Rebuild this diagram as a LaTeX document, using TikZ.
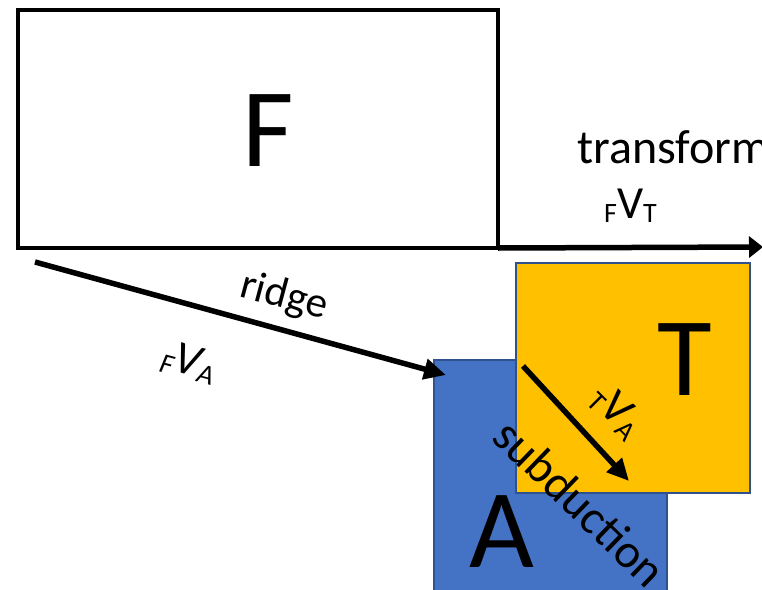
\documentclass[tikz,border=0pt]{standalone}
\usepackage{fontspec}
\setmainfont{Carlito}
\usetikzlibrary{arrows.meta}
\newcommand\lowsub[1]{\raisebox{-4pt}{\fontsize{28}{28}\selectfont #1}}
\begin{document}
\begin{tikzpicture}[x=1pt,y=-1pt,
  plate/.style={draw, inner sep=0pt, outer sep=0pt},
  bigletter/.style={font=\fontsize{112}{112}\selectfont, inner sep=0pt},
  label/.style={font=\fontsize{48}{48}\selectfont, inner sep=0pt},
  vel/.style={line width=5.5pt, -{Triangle[length=22pt,width=20pt]}},
  ]
\clip (0,0) rectangle (762,589);
\useasboundingbox (0,0) rectangle (762,589);
% plates
\node[plate, line width=4pt, minimum width=480, minimum height=238] (F) at (258,129) {};
\node[plate, draw={rgb,255:red,47;green,82;blue,143}, fill={rgb,255:red,68;green,114;blue,196}, line width=1.5pt, minimum width=233, minimum height=250] (A) at (550.5,485) {};
\node[plate, draw={rgb,255:red,47;green,82;blue,143}, fill={rgb,255:red,255;green,192;blue,0}, line width=1.5pt, minimum width=234, minimum height=230] (T) at (633,378) {};
% plate letters
\node[bigletter] (Fl) at (268,131) {F};
\node[bigletter] (Tl) at (685,360) {T};
\node[bigletter] (Al) at (502,532) {A};
% connectors
\coordinate (rs) at (35,262);
\coordinate (re) at (446,375);
\coordinate (te) at (763,247);
\coordinate (ts) at (523,366);
\coordinate (tae) at (629,481);
\draw[vel] (rs) -- (re);
\draw[line width=5.5pt, -{Triangle[length=14pt,width=21pt]}] (F.south east) -- (te);
\draw[vel] (ts) -- (tae);
% labels
\node[label, rotate=-15, font=\fontsize{43}{43}\selectfont] (ridge) at (284,297) {ridge};
\node[label, rotate=-15, font=\fontsize{46}{46}\selectfont\itshape] (fva) at (189,362) {\lowsub{F}V\lowsub{A}};
\node[label, anchor=base west] (trans) at (577,163) {transform};
\node[label, anchor=base west, font=\fontsize{46}{46}\selectfont] (fvt) at (604,218) {\lowsub{F}V\lowsub{T}};
\node[label, rotate=-44] (sub) at (580,503) {subduction};
\node[label, rotate=-45, font=\fontsize{46}{46}\selectfont] (tva) at (617,411) {\lowsub{T}V\lowsub{A}};
\end{tikzpicture}
\end{document}
